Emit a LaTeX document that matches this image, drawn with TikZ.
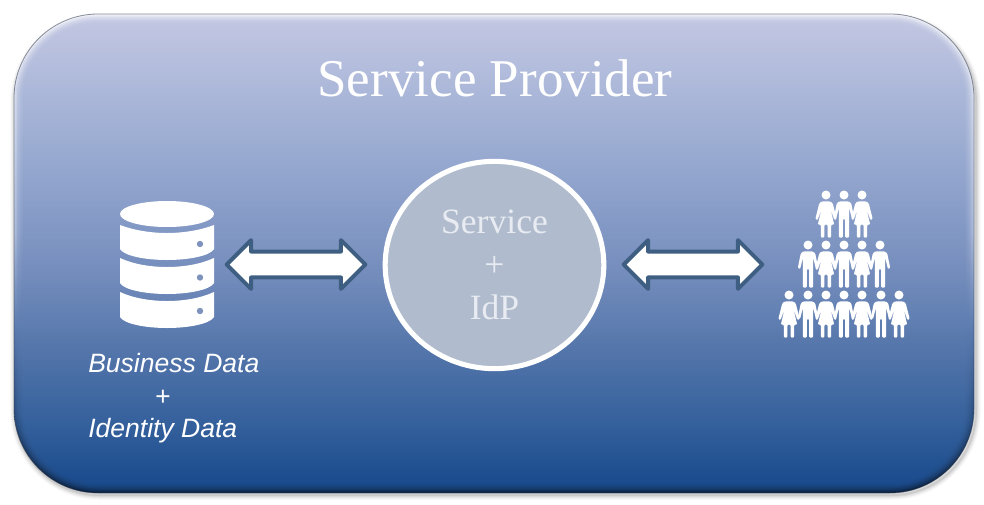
\documentclass[tikz,border=0pt]{standalone}
\usepackage{fontspec}
\setmainfont{Liberation Serif}
\newfontfamily\labelsans{Liberation Sans}
\usetikzlibrary{shapes.arrows,shapes.geometric}
\definecolor{panelA}{HTML}{C0C5E1}
\definecolor{panelB}{HTML}{B2BCDC}
\definecolor{panelC}{HTML}{93A6CE}
\definecolor{panelD}{HTML}{7B92C0}
\definecolor{panelE}{HTML}{5A7AAE}
\definecolor{panelF}{HTML}{33609C}
\definecolor{panelG}{HTML}{1B4C8E}
\definecolor{arrowdark}{HTML}{3F5F82}
\definecolor{circlefill}{HTML}{B0BCCD}
\definecolor{circletext}{HTML}{E8EBF1}
\definecolor{dotcol}{HTML}{7E93BC}
\pgfdeclareverticalshading{panelmain}{100bp}{
 color(0bp)=(panelG); color(25bp)=(panelG); color(31bp)=(panelF); color(41bp)=(panelE);
 color(50bp)=(panelD); color(59bp)=(panelC); color(70bp)=(panelB); color(75bp)=(panelA); color(100bp)=(panelA)}
\pgfdeclareverticalshading{paneledge}{100bp}{
 color(0bp)=(black!60!panelG); color(25bp)=(black!55!panelG); color(33bp)=(black!20!panelF); color(42bp)=(panelE); color(52bp)=(white!25!panelC);
 color(75bp)=(white!75!panelA); color(100bp)=(white!75!panelA)}
\tikzset{
 x=0.75pt,y=-0.75pt,
 panelbox/.style={rounded corners=63pt},
 blockarrow/.style={double arrow,draw=arrowdark,fill=white,line width=3pt,line join=round,
   inner xsep=0pt,inner ysep=8.2pt,minimum height=104pt,double arrow head extend=8.6pt,
   double arrow tip angle=90},
 hubcircle/.style={ellipse,draw=white,line width=3.8pt,fill=circlefill,minimum width=164pt,minimum height=155.5pt,inner sep=0pt,
   text=circletext,align=center,font=\fontsize{26.7}{32.25}\selectfont},
 titletext/.style={text=white,font=\fontsize{39.8}{46}\selectfont,inner sep=0pt},
 datatext/.style={text=white,align=left,inner sep=0pt,font=\labelsans\itshape\fontsize{19.9}{24.4}\selectfont},
 figure/.style={fill=white,rounded corners=0.8pt},
 mancol/.pic={
   \fill[white] (0,0) circle (4.5);
   \fill[figure] (-4.5,6.4) -- (4.5,6.4) -- (7.2,8.2) -- (10.2,23) -- (8,24.2) -- (5.2,13) -- (5.2,42.5) -- (1.1,42.5) -- (1.1,24) -- (-1.1,24) -- (-1.1,42.5) -- (-5.2,42.5) -- (-5.2,13) -- (-8,24.2) -- (-10.2,23) -- (-7.2,8.2) -- cycle;
 },
 womancol/.pic={
   \fill[white] (0,0) circle (4.5);
   \fill[figure] (-4,6.4) -- (4,6.4) -- (6.7,8.2) -- (10.7,24) -- (8.5,25.2) -- (4.5,14) -- (8.2,29.7) -- (5.2,29.7) -- (5.2,42.5) -- (1.6,42.5) -- (1.6,29.7) -- (-1.6,29.7) -- (-1.6,42.5) -- (-5.2,42.5) -- (-5.2,29.7) -- (-8.2,29.7) -- (-4.5,14) -- (-8.5,25.2) -- (-10.7,24) -- (-6.7,8.2) -- cycle;
 },
}
\begin{document}
\begin{tikzpicture}
\useasboundingbox (0,0) rectangle (984,504);
% soft shadow
\foreach \w/\o in {10/0.02,8/0.03,6/0.04,4/0.05,2/0.08}{
  \draw[panelbox,black,opacity=\o,line width=\w*0.75pt] (15,18) rectangle (976,495);
}
% bevelled panel
\shade[panelbox,shading=paneledge] (14,14) rectangle (974,493);
\draw[panelbox,black!60!panelD,opacity=0.55,line width=0.6pt] (14,14) rectangle (974,493);
\foreach \i/\o in {1.5/0.25,3/0.3,4.5/0.35,6/0.4,7.5/0.5,9/0.6,10.5/0.7}{
  \shade[rounded corners=63pt-\i*0.75pt,shading=panelmain,opacity=\o] (14+\i,14+\i) rectangle (974-\i,493-\i);
}
% title
\node[titletext] (title) at (495,78) {Service Provider};
% central circle
\node[hubcircle] (hub) at (494.5,265) {Service\\+\\IdP};
% arrows
\node[blockarrow] (arrowL) at (296,264.5) {};
\node[blockarrow] (arrowR) at (693,264.5) {};
% database
\fill[white] (167,214) ellipse (47 and 13);
\fill[white] (120,225) .. controls (133,230) and (150,233) .. (167,233) .. controls (184,233) and (201,230) .. (214,225)
  -- (214,249) .. controls (210,256) and (188,260) .. (167,260) .. controls (146,260) and (124,256) .. (120,249) -- cycle;
\fill[white] (120,258) .. controls (133,264) and (150,267) .. (167,267) .. controls (184,267) and (201,264) .. (214,258)
  -- (214,283) .. controls (210,290) and (188,294) .. (167,294) .. controls (146,294) and (124,290) .. (120,283) -- cycle;
\fill[white] (120,292) .. controls (133,298) and (150,301) .. (167,301) .. controls (184,301) and (201,298) .. (214,292)
  -- (214,317) .. controls (210,324) and (188,328) .. (167,328) .. controls (146,328) and (124,324) .. (120,317) -- cycle;
\foreach \yy in {244,277.5,311}{ \fill[dotcol] (200,\yy) circle (3.2); }
% data label
\node[datatext,anchor=north west] (datalabel) at (88,353) {Business Data\\[0pt]\hspace*{50pt}+\\Identity Data};
% people
\foreach \xx/\kind in {826/womancol,844/mancol,862/womancol}{ \pic at (\xx,195) {\kind}; }
\foreach \xx/\kind in {808/mancol,826/womancol,844/mancol,862/womancol,880/mancol}{ \pic at (\xx,245) {\kind}; }
\foreach \xx/\kind in {789/womancol,808/mancol,826/womancol,844/mancol,862/womancol,881/mancol,899/womancol}{ \pic at (\xx,295) {\kind}; }
\end{tikzpicture}
\end{document}
